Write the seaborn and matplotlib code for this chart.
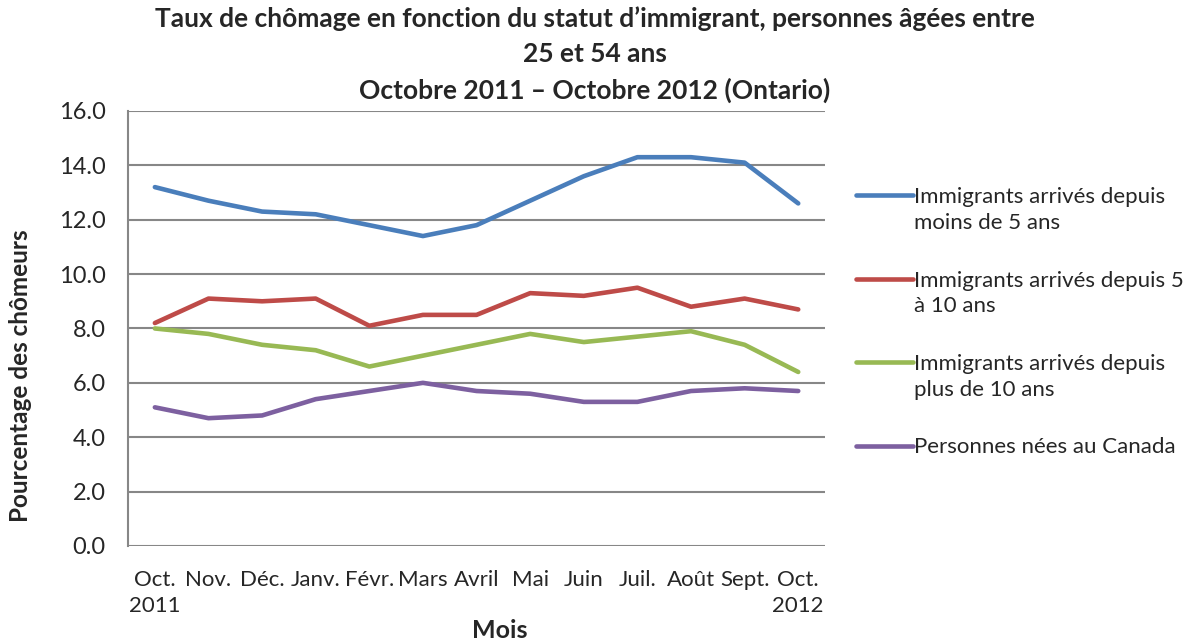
import matplotlib
matplotlib.use("Agg")
import matplotlib.pyplot as plt
import pandas as pd
import seaborn as sns
from matplotlib.ticker import FormatStrFormatter, FixedLocator
from matplotlib.legend_handler import HandlerLine2D

# Months (Oct 2011 - Oct 2012)
months = ["Oct.\n2011", "Nov.", "Déc.", "Janv.", "Févr.", "Mars", "Avril",
          "Mai", "Juin", "Juil.", "Août", "Sept.", "Oct.\n2012"]

# Unemployment rates (%)
recent = [13.2, 12.7, 12.3, 12.2, 11.8, 11.4, 11.8, 12.7, 13.6, 14.3, 14.3, 14.1, 12.6]
five_ten = [8.2, 9.1, 9.0, 9.1, 8.1, 8.5, 8.5, 9.3, 9.2, 9.5, 8.8, 9.1, 8.7]
over_ten = [8.0, 7.8, 7.4, 7.2, 6.6, 7.0, 7.4, 7.8, 7.5, 7.7, 7.9, 7.4, 6.4]
canada = [5.1, 4.7, 4.8, 5.4, 5.7, 6.0, 5.7, 5.6, 5.3, 5.3, 5.7, 5.8, 5.7]

series_names = ["Immigrants arrivés depuis\nmoins de 5 ans",
                "Immigrants arrivés depuis 5\nà 10 ans",
                "Immigrants arrivés depuis\nplus de 10 ans",
                "Personnes nées au Canada"]
colors = ["#4A7EBB", "#BE4B48", "#98B954", "#7D60A0"]

frames = []
for name, vals in zip(series_names, [recent, five_ten, over_ten, canada]):
    frames.append(pd.DataFrame({"Mois": months, "Taux": vals, "Série": name}))
df = pd.concat(frames, ignore_index=True)

sns.set_style("white")
plt.rcParams["font.family"] = ["Lato", "DejaVu Sans"]

fig = plt.figure(figsize=(11.89, 6.43), dpi=100)
ax = fig.add_axes([0.1077, 0.1509, 0.5862, 0.6765])

sns.lineplot(data=df, x="Mois", y="Taux", hue="Série", palette=colors,
             linewidth=3.3, sort=False, ax=ax, solid_capstyle="round")

# axes styling, Excel look
ax.set_ylim(0, 16)
ax.set_xlim(-0.5, len(months) - 0.5)
ax.set_yticks([0, 2, 4, 6, 8, 10, 12, 14, 16])
ax.yaxis.set_major_formatter(FormatStrFormatter("%.1f"))
ax.grid(axis="y", color="#878787", linewidth=1.5)
ax.set_axisbelow(True)
for s in ["top", "right", "bottom"]:
    ax.spines[s].set_visible(False)
ax.spines["left"].set_color("#878787")
ax.spines["left"].set_linewidth(1.5)
ax.tick_params(axis="y", length=6, width=1.5, color="#878787", labelsize=17, pad=10)
ax.tick_params(axis="x", which="major", length=0, labelsize=16, pad=17)
for lbl in ax.get_xticklabels():
    lbl.set_linespacing(1.4)
ax.xaxis.set_minor_locator(FixedLocator([i - 0.5 for i in range(len(months) + 1)]))
ax.tick_params(axis="x", which="minor", length=7, width=1.5, color="#878787")
ax.set_xlabel("")
ax.set_ylabel("")

fig.text(0.017, 0.415, "Pourcentage des chômeurs", rotation=90, fontsize=17.5,
         fontweight="bold", ha="center", va="center")
fig.text(0.42, 0.02, "Mois", fontsize=18, fontweight="bold", ha="center", va="center")
fig.suptitle("Taux de chômage en fonction du statut d’immigrant, personnes âgées entre\n"
             "25 et 54 ans\nOctobre 2011 – Octobre 2012 (Ontario)",
             x=0.5, y=0.99, fontsize=19, fontweight="bold", linespacing=1.55)


class TopLineHandler(HandlerLine2D):
    # put the legend line next to the first text line
    def __init__(self, shift, **kw):
        super().__init__(**kw)
        self.shift = shift

    def create_artists(self, legend, orig_handle, xdescent, ydescent, width,
                       height, fontsize, trans):
        arts = super().create_artists(legend, orig_handle, xdescent, ydescent,
                                      width, height, fontsize, trans)
        for a in arts:
            a.set_ydata([y + self.shift for y in a.get_ydata()])
        return arts


handles, labels = ax.get_legend_handles_labels()
hmap = {}
for h, l in zip(handles, labels):
    h.set_solid_capstyle("round")
    hmap[h] = TopLineHandler(shift=16 * 0.67 if "\n" in l else 0)
leg = ax.legend(handles, labels, loc="upper left", bbox_to_anchor=(0.711, 0.726),
                bbox_transform=fig.transFigure, frameon=False, fontsize=16,
                handlelength=2.55, handletextpad=0.05, labelspacing=1.7,
                borderpad=0, handler_map=hmap)
for t in leg.get_texts():
    t.set_linespacing(1.35)

fig.savefig("out.png", dpi=100)
